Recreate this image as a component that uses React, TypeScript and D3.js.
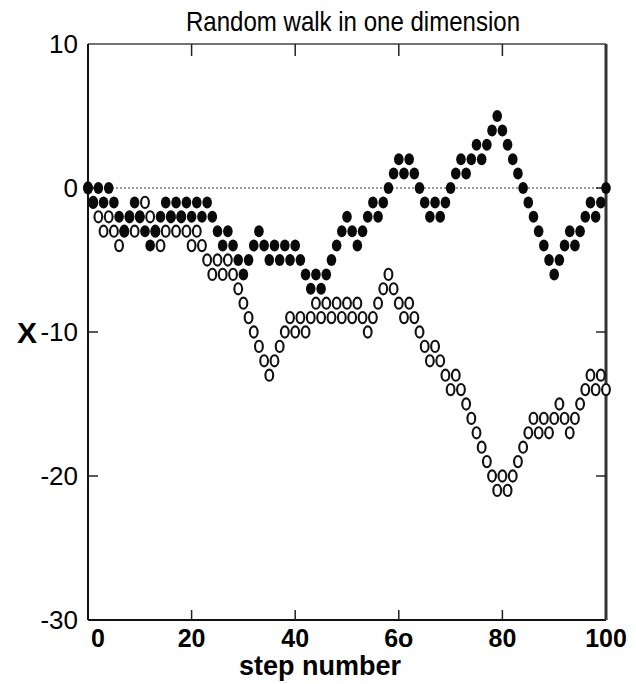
import React, { useRef, useEffect } from 'react';
import * as d3 from 'd3';

// position after each step, filled-circle walk (steps 0..100)
const filledWalk = [
  0, -1, 0, -1, 0, -1, -2, -3, -2, -1,
  -2, -3, -4, -3, -2, -1, -2, -1, -2, -1,
  -2, -1, -2, -1, -2, -3, -4, -3, -4, -5,
  -6, -5, -4, -3, -4, -5, -4, -5, -4, -5,
  -4, -5, -6, -7, -6, -7, -6, -5, -4, -3,
  -2, -3, -4, -3, -2, -1, -2, -1, 0, 1,
  2, 1, 2, 1, 0, -1, -2, -1, -2, -1,
  0, 1, 2, 1, 2, 3, 2, 3, 4, 5,
  4, 3, 2, 1, 0, -1, -2, -3, -4, -5,
  -6, -5, -4, -3, -4, -3, -2, -1, -2, -1,
  0,
];

// open-circle walk
const openWalk = [
  0, -1, -2, -3, -2, -3, -4, -3, -2, -3,
  -2, -1, -2, -3, -4, -3, -2, -3, -2, -3,
  -4, -3, -4, -5, -6, -5, -6, -5, -6, -7,
  -8, -9, -10, -11, -12, -13, -12, -11, -10, -9,
  -10, -9, -10, -9, -8, -9, -8, -9, -8, -9,
  -8, -9, -8, -9, -10, -9, -8, -7, -6, -7,
  -8, -9, -8, -9, -10, -11, -12, -11, -12, -13,
  -14, -13, -14, -15, -16, -17, -18, -19, -20, -21,
  -20, -21, -20, -19, -18, -17, -16, -17, -16, -17,
  -16, -15, -16, -17, -16, -15, -14, -13, -14, -13,
  -14,
];

const xTicks = [0, 20, 40, 60, 80, 100];
const xTickLabels = ['0', '20', '40', '6o', '80', '100'];
const yTicks = [10, 0, -10, -20, -30];
const yTickLabels = ['10', '0', '-10', '-20', '-30'];

const W = 636;
const H = 684;

const App = () => {
  const ref = useRef<SVGSVGElement | null>(null);

  useEffect(() => {
    const margin = { top: 44, right: 30, bottom: 64, left: 88 };
    const svg = d3.select(ref.current);
    svg.selectAll('*').remove();

    const x = d3.scaleLinear().domain([0, 100]).range([margin.left, W - margin.right]);
    const y = d3.scaleLinear().domain([-30, 10]).range([H - margin.bottom, margin.top]);
    const font = "'Liberation Sans Narrow', 'Liberation Sans', Arial, sans-serif";

    // title
    svg
      .append('text')
      .attr('x', 186)
      .attr('y', 31)
      .attr('font-family', font)
      .attr('font-size', 28)
      .attr('textLength', 334)
      .attr('lengthAdjust', 'spacingAndGlyphs')
      .text('Random walk in one dimension');

    // frame
    const [x0, x1] = x.range();
    const [yb, yt] = y.range();
    svg.append('line').attr('x1', x0).attr('x2', x1).attr('y1', yt).attr('y2', yt)
      .attr('stroke', '#444').attr('stroke-width', 1.5);
    svg.append('line').attr('x1', x0).attr('x2', x1).attr('y1', yb).attr('y2', yb)
      .attr('stroke', '#111').attr('stroke-width', 2);
    svg.append('line').attr('x1', x0).attr('x2', x0).attr('y1', yt).attr('y2', yb)
      .attr('stroke', '#111').attr('stroke-width', 2);
    svg.append('line').attr('x1', x1).attr('x2', x1).attr('y1', yt).attr('y2', yb)
      .attr('stroke', '#333').attr('stroke-width', 3);

    // inward ticks
    const inner = xTicks.slice(1, -1);
    svg.append('g').selectAll('line').data(inner).join('line')
      .attr('x1', (d) => x(d)).attr('x2', (d) => x(d))
      .attr('y1', yt).attr('y2', yt + 12)
      .attr('stroke', '#222').attr('stroke-width', 1.5);
    svg.append('g').selectAll('line').data(inner).join('line')
      .attr('x1', (d) => x(d)).attr('x2', (d) => x(d))
      .attr('y1', yb).attr('y2', yb - 10)
      .attr('stroke', '#222').attr('stroke-width', 1.5);
    const innerY = yTicks.slice(1, -1);
    svg.append('g').selectAll('line').data(innerY).join('line')
      .attr('x1', x0).attr('x2', x0 + 10)
      .attr('y1', (d) => y(d)).attr('y2', (d) => y(d))
      .attr('stroke', '#222').attr('stroke-width', 1.5);
    svg.append('g').selectAll('line').data(innerY).join('line')
      .attr('x1', x1).attr('x2', x1 - 10)
      .attr('y1', (d) => y(d)).attr('y2', (d) => y(d))
      .attr('stroke', '#222').attr('stroke-width', 1.5);

    // y tick labels
    svg.append('g').selectAll('text').data(yTicks).join('text')
      .attr('x', 78)
      .attr('y', (d) => y(d))
      .attr('dy', '0.36em')
      .attr('text-anchor', 'end')
      .attr('font-family', font)
      .attr('font-size', 26)
      .text((d, i) => yTickLabels[i]);

    // x tick labels
    svg.append('g').selectAll('text').data(xTicks).join('text')
      .attr('x', (d) => (d === 0 ? x(d) + 10 : x(d)))
      .attr('y', 647)
      .attr('text-anchor', 'middle')
      .attr('font-family', font)
      .attr('font-weight', 'bold')
      .attr('font-size', 25)
      .text((d, i) => xTickLabels[i]);

    // axis titles
    svg.append('text')
      .attr('x', 320).attr('y', 675)
      .attr('text-anchor', 'middle')
      .attr('font-family', font)
      .attr('font-weight', 'bold')
      .attr('font-size', 27)
      .text('step number');
    svg.append('text')
      .attr('x', 27).attr('y', y(-10))
      .attr('dy', '0.36em')
      .attr('text-anchor', 'middle')
      .attr('font-family', font)
      .attr('font-weight', 'bold')
      .attr('font-size', 30)
      .text('X');

    // dotted zero line
    svg.append('line')
      .attr('x1', x0).attr('x2', x1).attr('y1', y(0)).attr('y2', y(0))
      .attr('stroke', '#333').attr('stroke-width', 1.2)
      .attr('stroke-dasharray', '2,2');

    // open walk
    svg.append('g').selectAll('ellipse').data(openWalk).join('ellipse')
      .attr('cx', (d, i) => x(i))
      .attr('cy', (d) => y(d))
      .attr('rx', 3.9)
      .attr('ry', 5.6)
      .attr('fill', 'white')
      .attr('stroke', '#111')
      .attr('stroke-width', 2.1);

    // filled walk on top
    svg.append('g').selectAll('ellipse').data(filledWalk).join('ellipse')
      .attr('cx', (d, i) => x(i))
      .attr('cy', (d) => y(d))
      .attr('rx', 4.8)
      .attr('ry', 6)
      .attr('fill', '#0a0a0a');
  }, []);

  return (
    <div style={{ position: 'absolute', left: 0, top: 0 }}>
      <svg ref={ref} width={W} height={H} style={{ display: 'block', background: 'white' }} />
    </div>
  );
};

export default App;
